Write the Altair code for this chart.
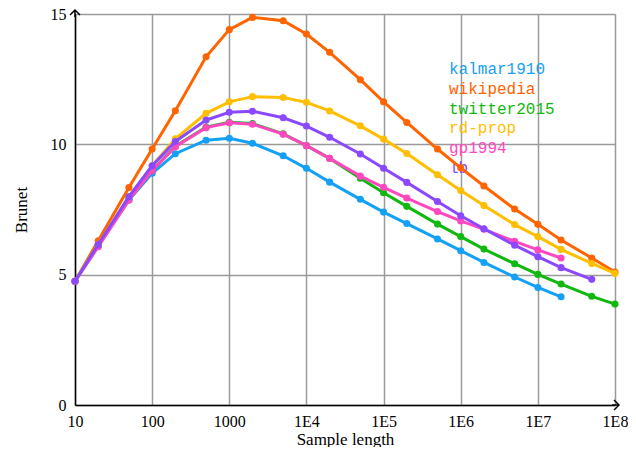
import altair as alt
import pandas as pd

xs = [10, 20, 50, 100, 200, 500, 1e3, 2e3, 5e3, 1e4, 2e4, 5e4, 1e5, 2e5, 5e5,
      1e6, 2e6, 5e6, 1e7, 2e7, 5e7, 1e8]

kalmar1910 = [4.75, 6.12, 7.86, 8.89, 9.64, 10.16, 10.23, 10.04, 9.56, 9.08, 8.55,
              7.89, 7.40, 6.96, 6.37, 5.92, 5.47, 4.91, 4.51, 4.15]
wikipedia = [4.75, 6.30, 8.34, 9.82, 11.29, 13.36, 14.40, 14.87, 14.74, 14.23, 13.53,
             12.48, 11.63, 10.84, 9.82, 9.10, 8.40, 7.52, 6.93, 6.33, 5.64, 5.10]
twitter2015 = [4.75, 6.10, 7.88, 9.00, 9.93, 10.66, 10.85, 10.80, 10.40, 9.95, 9.46,
               8.70, 8.14, 7.62, 6.94, 6.46, 5.98, 5.42, 5.01, 4.64, 4.17, 3.87]
rd_prop = [4.75, 6.16, 7.99, 9.18, 10.21, 11.19, 11.63, 11.83, 11.80, 11.61, 11.28,
           10.71, 10.20, 9.65, 8.83, 8.23, 7.65, 6.92, 6.46, 5.97, 5.43, 5.05]
gp1994 = [4.75, 6.07, 7.86, 8.99, 9.91, 10.64, 10.83, 10.77, 10.39, 9.95, 9.46,
          8.78, 8.35, 7.94, 7.42, 7.06, 6.74, 6.28, 5.95, 5.64]
lb = [4.75, 6.16, 7.99, 9.18, 10.11, 10.93, 11.23, 11.27, 11.02, 10.70, 10.27,
      9.63, 9.08, 8.54, 7.81, 7.26, 6.76, 6.13, 5.69, 5.27, 4.82]

names = ["kalmar1910", "wikipedia", "twitter2015", "rd-prop", "gp1994", "lb"]
series = [kalmar1910, wikipedia, twitter2015, rd_prop, gp1994, lb]
colors = ["#14a0f5", "#ff6400", "#10b810", "#ffbe00", "#ff48c0", "#8a48ff"]

decades = [10, 100, 1000, 1e4, 1e5, 1e6, 1e7, 1e8]
yticks = [0, 5, 10, 15]

serif = "Liberation Serif"
mono = "Liberation Mono"

xenc = alt.X(
    "x:Q",
    scale=alt.Scale(type="log", domain=[10, 1e8], nice=False),
    axis=alt.Axis(
        values=decades,
        labelExpr="datum.value <= 1000 ? format(datum.value, 'd') : '1E' + round(log(datum.value)/LN10)",
        grid=True, gridColor="#9a9a9a", gridWidth=1.5,
        ticks=False, domainColor="black", domainWidth=1.5,
        labelFont=serif, labelFontSize=16, labelColor="black", labelPadding=8,
        labelFlush=False,
        title="Sample length", titleFont=serif, titleFontSize=17,
        titleFontWeight="normal", titleColor="black", titlePadding=2,
    ),
)
yenc = alt.Y(
    "y:Q",
    scale=alt.Scale(domain=[0, 15], nice=False),
    axis=alt.Axis(
        values=yticks, grid=True, gridColor="#9a9a9a", gridWidth=1.5,
        ticks=False, domainColor="black", domainWidth=1.5,
        labelFont=serif, labelFontSize=16, labelColor="black", labelPadding=9,
        labelFlush=False,
        title="Brunet", titleFont=serif, titleFontSize=17,
        titleFontWeight="normal", titleColor="black", titlePadding=20,
    ),
)

layers = []
# legend as coloured text (drawn beneath the lines, as in the reference)
for i, (name, col) in enumerate(zip(names, colors)):
    layers.append(
        alt.Chart(pd.DataFrame({"t": [name]})).mark_text(
            font=mono, fontSize=16, color=col, align="left", baseline="middle"
        ).encode(x=alt.value(374), y=alt.value(55 + i * 19.8), text="t:N")
    )

for name, vals, col in zip(names, series, colors):
    df = pd.DataFrame({"x": xs[:len(vals)], "y": vals, "s": name})
    base = alt.Chart(df).encode(x=xenc, y=yenc)
    layers.append(base.mark_line(color=col, strokeWidth=3))
    layers.append(base.mark_circle(color=col, size=50, opacity=1))

# arrow heads on axes
arr_up = pd.DataFrame({"x": [10], "y": [15]})
arr_rt = pd.DataFrame({"x": [1e8], "y": [0]})
layers.append(
    alt.Chart(arr_up).mark_point(
        shape="M-1,0.2 L0,-0.8 L1,0.2 M0,-0.8 L0,0.6", size=100,
        filled=False, stroke="black", strokeWidth=1.5, opacity=1
    ).encode(x=xenc, y=yenc)
)
layers.append(
    alt.Chart(arr_rt).mark_point(
        shape="M-0.2,-1 L0.8,0 L-0.2,1 M-0.6,0 L0.8,0", size=100,
        filled=False, stroke="black", strokeWidth=1.5, opacity=1
    ).encode(x=xenc, y=yenc)
)

chart = alt.layer(*layers).properties(
    width=540, height=391,
    autosize=alt.AutoSizeParams(type="none"),
    padding={"left": 67, "top": 6, "right": 13, "bottom": 42},
).configure_view(stroke=None).configure(background="white")

chart.save("out.html", embed_options={"renderer": "svg", "actions": False})
